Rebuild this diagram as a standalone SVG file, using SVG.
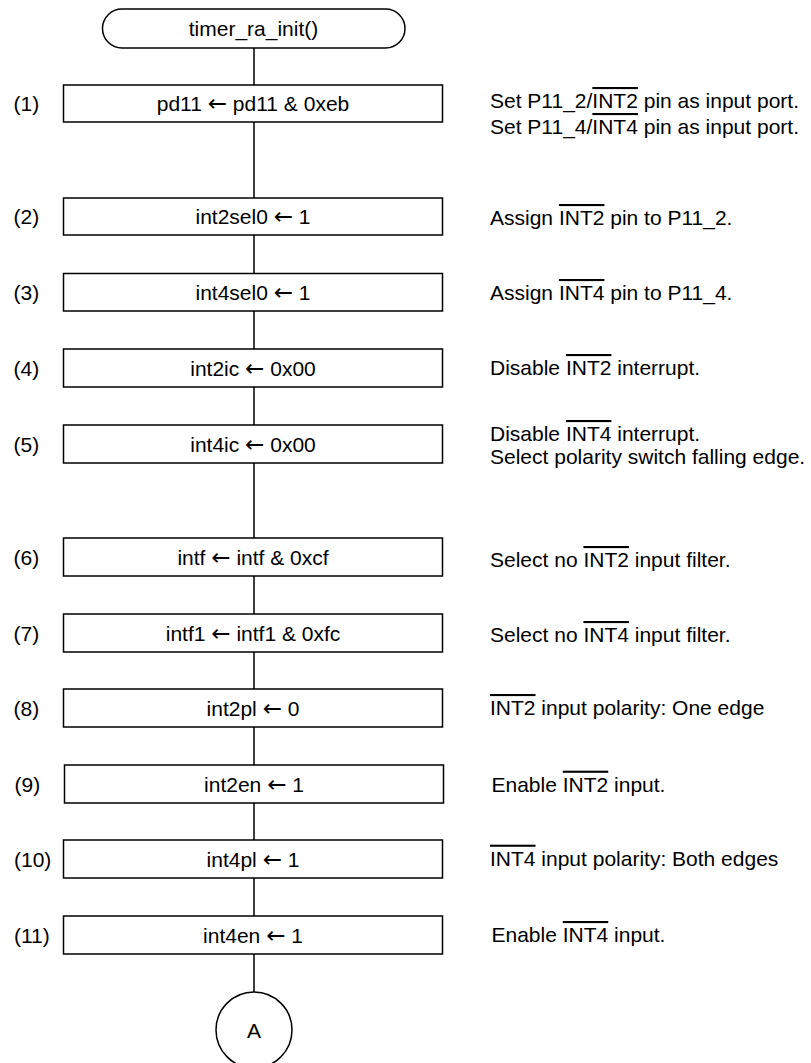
<svg xmlns="http://www.w3.org/2000/svg" width="811" height="1063" viewBox="0 0 811 1063">
<style>
text{font-family:"Liberation Sans",Arial,sans-serif;font-size:21px;fill:#000}
.c{text-anchor:middle}
.ob{text-decoration:overline}
.ar{font-family:"DejaVu Sans",sans-serif;font-size:23px}
.bx{fill:#fff;stroke:#000;stroke-width:1.5}
.ln{stroke:#000;stroke-width:1.5;fill:none}
</style>
<rect width="811" height="1063" fill="#fff"/>
<g id="connectors">
<path class="ln" d="M254 48V85M254 122V198M254 235V273.5M254 311V349M254 387V425M254 463V538M254 576V614M254 652V689M254 727V765M254 803V840M254 878V916M254 954V992"/>
</g>
<g id="start">
<rect class="bx" x="102.5" y="9" width="302.5" height="39" rx="19.5"/>
<text class="c" x="253.5" y="35.5">timer_ra_init()</text>
</g>
<g id="n1">
<text x="13.5" y="111">(1)</text>
<rect class="bx" x="63.5" y="85" width="379" height="37"/>
<text class="c" x="253" y="111">pd11 <tspan class="ar">←</tspan> pd11 &amp; 0xeb</text>
<text x="490" y="108">Set P11_2/<tspan class="ob">INT2</tspan> pin as input port.</text>
<text x="490" y="134">Set P11_4/<tspan class="ob">INT4</tspan> pin as input port.</text>
</g>
<g id="n2">
<text x="13.5" y="224">(2)</text>
<rect class="bx" x="63.5" y="198" width="379" height="37"/>
<text class="c" x="253" y="224">int2sel0 <tspan class="ar">←</tspan> 1</text>
<text x="490" y="225">Assign <tspan class="ob">INT2</tspan> pin to P11_2.</text>
</g>
<g id="n3">
<text x="13.5" y="299.5">(3)</text>
<rect class="bx" x="63.5" y="273.5" width="379" height="37.5"/>
<text class="c" x="253" y="299.5">int4sel0 <tspan class="ar">←</tspan> 1</text>
<text x="490" y="300">Assign <tspan class="ob">INT4</tspan> pin to P11_4.</text>
</g>
<g id="n4">
<text x="13.5" y="375.5">(4)</text>
<rect class="bx" x="63.5" y="349" width="379" height="38"/>
<text class="c" x="253" y="375.5">int2ic <tspan class="ar">←</tspan> 0x00</text>
<text x="490" y="375">Disable <tspan class="ob">INT2</tspan> interrupt.</text>
</g>
<g id="n5">
<text x="13.5" y="451.5">(5)</text>
<rect class="bx" x="63.5" y="425" width="379" height="38"/>
<text class="c" x="253" y="451.5">int4ic <tspan class="ar">←</tspan> 0x00</text>
<text x="490" y="441">Disable <tspan class="ob">INT4</tspan> interrupt.</text>
<text x="490" y="464">Select polarity switch falling edge.</text>
</g>
<g id="n6">
<text x="13.5" y="564.5">(6)</text>
<rect class="bx" x="63.5" y="538" width="379" height="38"/>
<text class="c" x="253" y="564.5">intf <tspan class="ar">←</tspan> intf &amp; 0xcf</text>
<text x="490" y="567">Select no <tspan class="ob">INT2</tspan> input filter.</text>
</g>
<g id="n7">
<text x="13.5" y="640.5">(7)</text>
<rect class="bx" x="63.5" y="614" width="379" height="38"/>
<text class="c" x="253" y="640.5">intf1 <tspan class="ar">←</tspan> intf1 &amp; 0xfc</text>
<text x="490" y="642">Select no <tspan class="ob">INT4</tspan> input filter.</text>
</g>
<g id="n8">
<text x="13.5" y="715.5">(8)</text>
<rect class="bx" x="63.5" y="689" width="379" height="38"/>
<text class="c" x="253" y="715.5">int2pl <tspan class="ar">←</tspan> 0</text>
<text x="490" y="715"><tspan class="ob">INT2</tspan> input polarity: One edge</text>
</g>
<g id="n9">
<text x="14.5" y="791.5">(9)</text>
<rect class="bx" x="64.5" y="765" width="379" height="38"/>
<text class="c" x="254" y="791.5">int2en <tspan class="ar">←</tspan> 1</text>
<text x="491.5" y="791.7">Enable <tspan class="ob">INT2</tspan> input.</text>
</g>
<g id="n10">
<text x="14" y="866.5">(10)</text>
<rect class="bx" x="63.5" y="840" width="379" height="38"/>
<text class="c" x="253" y="866.5">int4pl <tspan class="ar">←</tspan> 1</text>
<text x="490" y="865.7"><tspan class="ob">INT4</tspan> input polarity: Both edges</text>
</g>
<g id="n11">
<text x="14" y="942.5">(11)</text>
<rect class="bx" x="63.5" y="916" width="379" height="38"/>
<text class="c" x="253" y="942.5">int4en <tspan class="ar">←</tspan> 1</text>
<text x="491.5" y="942">Enable <tspan class="ob">INT4</tspan> input.</text>
</g>
<g id="connA">
<circle class="bx" cx="254" cy="1030" r="38"/>
<text class="c" x="254" y="1037.5">A</text>
</g>
</svg>
